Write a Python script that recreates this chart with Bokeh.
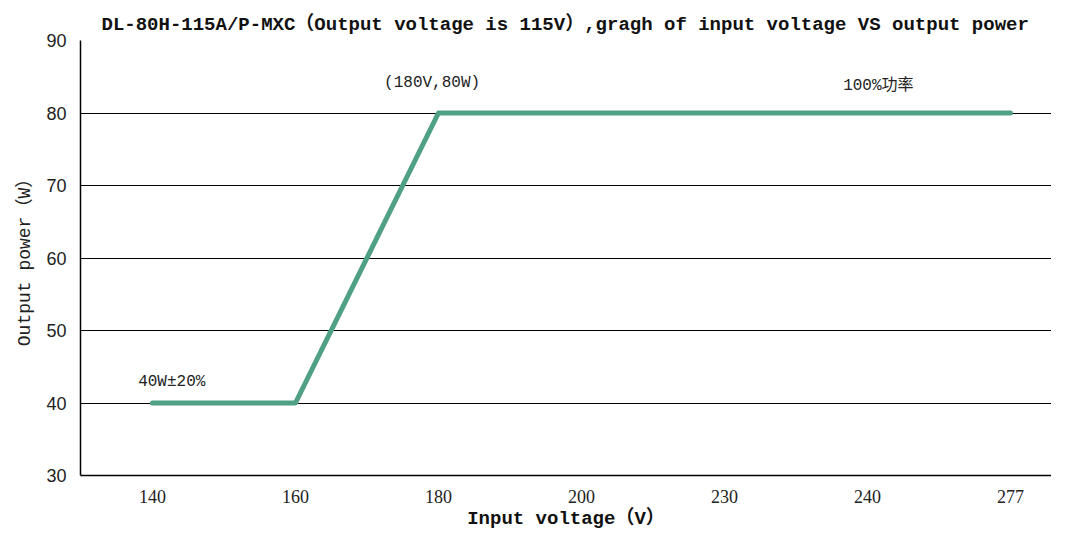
from bokeh.plotting import figure
from bokeh.models import Range1d, FixedTicker, Label
from bokeh.embed import file_html
from bokeh.resources import INLINE

# data
categories = ["140", "160", "180", "200", "230", "240", "277"]
line_voltages = ["140", "160", "180", "277"]
line_power = [40, 40, 80, 80]
y_ticks = [30, 40, 50, 60, 70, 80, 90]

annotations = ["40W±20%", "(180V,80W)", "100%功率"]
ann_x = [-0.1, 1.62, 4.83]
ann_y = [42.9, 84.2, 83.7]

TEAL = "#4fa085"
MONO = "Liberation Mono, Noto Sans CJK SC"

p = figure(width=1051, height=533, output_backend="svg", toolbar_location=None,
           x_range=Range1d(-0.503, 6.287), y_range=Range1d(30, 90),
           min_border_left=80, min_border_top=40, min_border_bottom=58,
           min_border_right=0)

p.title.text = "DL-80H-115A/P-MXC（Output voltage is 115V）,gragh of input voltage VS output power"
p.title.text_font = MONO
p.title.text_font_size = "19px"
p.title.text_font_style = "bold"
p.title.align = "left"
p.title.offset = 21
p.title.standoff = 9
p.title.text_color = "#111111"

p.outline_line_color = None
p.background_fill_color = "white"
p.border_fill_color = "white"

xs = [categories.index(v) for v in line_voltages]
p.line(xs, line_power, line_width=5, color=TEAL, line_cap="round", line_join="round")

for t, x, y in zip(annotations, ann_x, ann_y):
    p.add_layout(Label(x=x, y=y, text=t, text_font=MONO, text_font_size="16px",
                       text_baseline="middle", text_color="#222222"))

p.xaxis.ticker = FixedTicker(ticks=list(range(len(categories))))
p.xaxis.major_label_overrides = {i: c for i, c in enumerate(categories)}
p.xaxis.major_label_text_font = "Liberation Serif"
p.xaxis.major_label_text_font_size = "18px"
p.xaxis.major_label_text_color = "#222222"
p.xaxis.major_label_standoff = 14
p.xaxis.axis_label = "Input voltage（V）"
p.xaxis.axis_label_text_font = MONO
p.xaxis.axis_label_text_font_size = "19px"
p.xaxis.axis_label_text_font_style = "bold"
p.xaxis.axis_label_text_color = "#111111"
p.xaxis.axis_label_standoff = 2

p.yaxis.ticker = FixedTicker(ticks=y_ticks)
p.yaxis.major_label_text_font = "Liberation Sans"
p.yaxis.major_label_text_font_size = "18px"
p.yaxis.major_label_text_color = "#222222"
p.yaxis.major_label_standoff = 14
p.yaxis.axis_label = "Output power（W）"
p.yaxis.axis_label_text_font = MONO
p.yaxis.axis_label_text_font_size = "18px"
p.yaxis.axis_label_text_font_style = "normal"
p.yaxis.axis_label_text_color = "#222222"
p.yaxis.axis_label_standoff = 8

for ax in (p.xaxis, p.yaxis):
    ax.major_tick_out = 0
    ax.major_tick_in = 0
    ax.minor_tick_out = 0
    ax.minor_tick_in = 0
    ax.axis_line_color = "black"
    ax.axis_line_width = 1.5

p.xgrid.grid_line_color = None
p.ygrid.grid_line_color = "black"
p.ygrid.grid_line_width = 1.2
p.ygrid.ticker = FixedTicker(ticks=y_ticks)

open("out.html", "w").write(file_html(p, INLINE))
